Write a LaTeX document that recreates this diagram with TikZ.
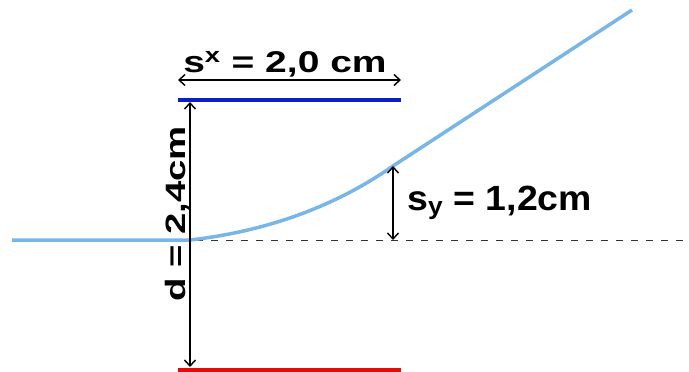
\documentclass[tikz,border=0pt]{standalone}
\usepackage{fontspec}
\setmainfont{Liberation Sans}
\usetikzlibrary{arrows.meta}
\definecolor{curveblue}{RGB}{120,182,232}
\definecolor{plateblue}{RGB}{10,30,200}
\definecolor{platered}{RGB}{230,10,10}
\tikzset{
  dim/.style={line width=1.4pt, {Straight Barb[length=6pt,width=11pt]}-{Straight Barb[length=6pt,width=11pt]}},
  lbl/.style={font=\fontsize{28}{30}\selectfont\bfseries, inner sep=0pt},
  plate/.style={line width=4pt},
}
\begin{document}
\begin{tikzpicture}[x=1pt,y=-1pt]
\useasboundingbox (0,0) rectangle (689,372);
% coordinates
\coordinate (bl) at (178,100);
\coordinate (br) at (401,100);
\coordinate (rl) at (178,369.5);
\coordinate (rr) at (401,369.5);
\coordinate (ol) at (12,240);
\coordinate (o) at (190,240);
\coordinate (p) at (393,166);
\coordinate (e) at (632,10);
\coordinate (ds) at (196,240);
\coordinate (dend) at (689,240);
\coordinate (dt) at (190,102);
\coordinate (db) at (190,367);
\coordinate (sxl) at (178,80);
\coordinate (sxr) at (401,80);
\coordinate (syt) at (393,166);
\coordinate (syb) at (393,240);
% plates
\draw[plate, plateblue] (bl) -- (br);
\draw[plate, platered] (rl) -- (rr);
% dashed axis
\draw[line width=0.8pt, dash pattern=on 7pt off 8pt, black!80] (ds) -- (dend);
% beam path
\draw[line width=3.5pt, curveblue] (ol) -- (o) .. controls (260,232) and (330,210) .. (p) -- (e);
% dimension arrows
\draw[dim] (dt) -- (db);
\draw[dim] (sxl) -- (sxr);
\draw[dim] (syt) -- (syb);
% labels
\node[lbl, anchor=base] (sx) at (285,72) {\fontsize{30}{32}\selectfont\scalebox{1.3}[1]{s\textsuperscript{x} = 2,0 cm}};
\node[lbl, anchor=base west] (sy) at (407,210) {\fontsize{35}{36}\selectfont\scalebox{1.07}[1]{s\textsubscript{y} = 1,2cm}};
\node[lbl, rotate=90, anchor=base] (d) at (185,214) {\scalebox{1.37}[1]{d = 2,4cm}};
\end{tikzpicture}
\end{document}
